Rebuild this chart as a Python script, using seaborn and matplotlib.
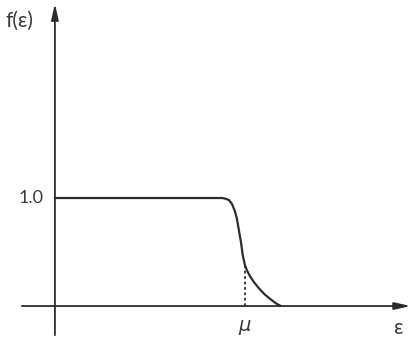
import matplotlib
matplotlib.use("Agg")
import matplotlib.pyplot as plt
import seaborn as sns
import pandas as pd

# occupation curve (energy in units of mu)
energy = [0.0, 0.879, 0.895, 0.916, 0.932, 0.947, 0.958, 0.968, 0.979, 0.989,
          1.0, 1.0105, 1.026, 1.047, 1.074, 1.105, 1.137, 1.163, 1.189]
occupation = [1.0, 1.0, 0.995, 0.981, 0.944, 0.880, 0.806, 0.704, 0.593, 0.465,
              0.38, 0.33, 0.278, 0.222, 0.163, 0.106, 0.060, 0.025, 0.0]
mu = 1.0
mu_value = 0.38
y_tick = 1.0
y_tick_label = "1.0"

INK = "#2b2b35"
TEXT = "#3a3a3a"

sns.set_style("white")
plt.rcParams['font.family'] = ['Lato', 'DejaVu Sans']

fig = plt.figure(figsize=(4.11, 3.38), dpi=100)
ax = fig.add_axes([0, 0, 1, 1])

df = pd.DataFrame({"energy": energy, "f": occupation})
sns.lineplot(data=df, x="energy", y="f", sort=False, color=INK, lw=1.6, ax=ax)

# dotted marker down from the curve at mu
ax.plot([mu, mu], [0, mu_value], color=INK, lw=1.3, ls=(0, (1.5, 1.5)))

# axes drawn as arrows
arrow = dict(arrowstyle="-|>,head_length=0.8,head_width=0.18", color=INK, lw=1.3,
             mutation_scale=12, shrinkA=0, shrinkB=0)
ax.annotate("", xy=(1.872, 0), xytext=(-0.174, 0), arrowprops=arrow)
ax.annotate("", xy=(0, 2.80), xytext=(0, -0.27), arrowprops=arrow)

ax.text(-0.262, 2.64, "f(ε)", fontsize=15, color=TEXT, va="center", ha="left")
ax.text(-0.06, y_tick, y_tick_label, fontsize=13, color=TEXT, va="center", ha="right")
ax.text(mu, -0.18, "μ", fontsize=14, color=TEXT, va="center", ha="center",
        style="italic", family=['DejaVu Sans'])
ax.text(1.805, -0.2, "ε", fontsize=15, color=TEXT, va="center", ha="center")

ax.set_xlim(-0.289, 1.874)
ax.set_ylim(-0.296, 2.833)
ax.set_axis_off()

fig.savefig("out.png", dpi=100)
